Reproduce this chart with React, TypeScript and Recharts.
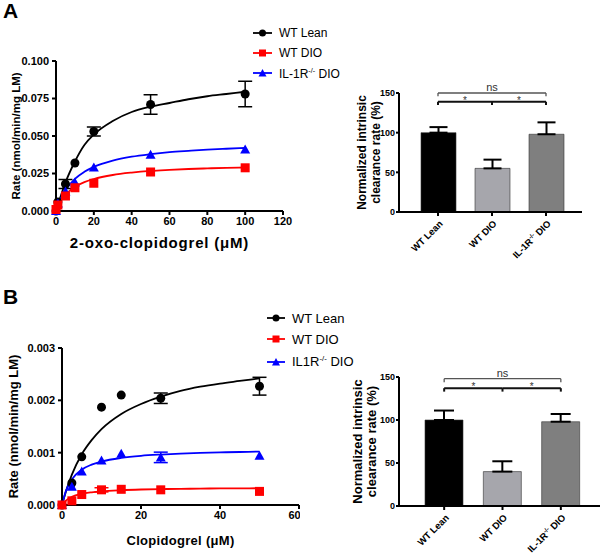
import React from "react";
import {
  ComposedChart,
  Line,
  Scatter,
  XAxis,
  YAxis,
  ErrorBar,
  BarChart,
  Bar,
  Cell,
  ReferenceLine,
} from "recharts";

const FONT = '"Liberation Sans", Arial, Helvetica, sans-serif';

// ---- Panel A: 2-oxo-clopidogrel kinetics ----
const concA = [0, 1, 5, 10, 20, 50, 100];
const leanA = [0, 0.006, 0.018, 0.032, 0.053, 0.071, 0.078];
const leanErrA = [0, 0, 0.003, 0, 0.003, 0.0065, 0.0085];
const dioA = [0.001, 0.004, 0.01, 0.0155, 0.0185, 0.026, 0.0288];
const dioErrA = [0, 0, 0, 0, 0, 0, 0];
const ilA = [0, 0.005, 0.013, 0.019, 0.029, 0.0375, 0.041];
const ilErrA = [0, 0, 0, 0, 0, 0, 0];

// fitted curves
const fitXA = [0, 1, 2, 5, 10, 15, 20, 30, 40, 50, 60, 70, 80, 90, 100];
const leanFitA = [0, 0.004, 0.008, 0.019, 0.033, 0.044, 0.051, 0.06, 0.066, 0.0695, 0.072, 0.0745, 0.0765, 0.078, 0.0795];
const dioFitA = [0, 0.0029, 0.0053, 0.0107, 0.016, 0.0192, 0.0213, 0.024, 0.0256, 0.0267, 0.0274, 0.028, 0.0284, 0.0288, 0.029];
const ilFitA = [0, 0.0036, 0.0067, 0.0138, 0.0214, 0.0261, 0.0294, 0.0336, 0.0362, 0.0379, 0.0392, 0.0401, 0.0409, 0.0415, 0.042];

// ---- Panel B: clopidogrel kinetics ----
const concB = [0, 2.5, 5, 10, 15, 25, 50];
const leanB = [0, 0.00042, 0.00092, 0.00187, 0.0021, 0.00204, 0.00227];
const leanErrB = [0, 0, 0, 0, 0, 0.0001, 0.00017];
const dioB = [0, 0.00008, 0.0002, 0.00029, 0.0003, 0.00029, 0.00026];
const dioErrB = [0, 0, 0, 0.00004, 0, 0, 0];
const ilB = [0, 0.00035, 0.00064, 0.00085, 0.00098, 0.00091, 0.00094];
const ilErrB = [0, 0, 0, 0, 0, 0.0001, 0];

const fitXB = [0, 1, 2.5, 5, 7.5, 10, 15, 20, 25, 30, 35, 40, 45, 50];
const leanFitB = [0, 0.00026, 0.00058, 0.00097, 0.00124, 0.00145, 0.00174, 0.00193, 0.00207, 0.00218, 0.00226, 0.00232, 0.00237, 0.00242];
const dioFitB = [0, 0.000085, 0.000155, 0.000213, 0.000243, 0.000262, 0.000283, 0.000296, 0.000304, 0.000309, 0.000313, 0.000317, 0.000319, 0.00032];
const ilFitB = [0, 0.00027, 0.00049, 0.000675, 0.000771, 0.00083, 0.0009, 0.00094, 0.000964, 0.000982, 0.000995, 0.001005, 0.001013, 0.00102];

// ---- Normalized intrinsic clearance bars ----
const groups = ["WT Lean", "WT DIO", "IL-1R-/- DIO"];
const barColors = ["#000000", "#a6a6ac", "#7f7f7f"];
const clearA = [100, 55, 98];
const clearErrA = [7, 11, 15];
const clearB = [100, 40, 98];
const clearErrB = [11, 12, 9];

const BLACK = "#000000";
const RED = "#ff0000";
const BLUE = "#0000ff";

const rows = (xs: number[], ys: number[], errs?: number[]) =>
  xs.map((x, i) => ({ x, y: ys[i], err: errs && errs[i] ? errs[i] : undefined }));

const barRows = (vals: number[], errs: number[]) =>
  groups.map((name, i) => ({ name, value: vals[i], err: [0, errs[i]] }));

const Dot = (p: any) => <circle cx={p.cx} cy={p.cy} r={4.5} fill={BLACK} />;
const Sq = (p: any) => <rect x={p.cx - 4.5} y={p.cy - 4.5} width={9} height={9} fill={RED} />;
const Tri = (p: any) => (
  <polygon points={`${p.cx},${p.cy - 5} ${p.cx - 5},${p.cy + 4} ${p.cx + 5},${p.cy + 4}`} fill={BLUE} />
);

function VTitle(props: any) {
  const { viewBox, lines, dx, size, gap } = props;
  const cx = (viewBox?.x ?? 0) + dx;
  const cy = (viewBox?.y ?? 0) + (viewBox?.height ?? 0) / 2;
  return (
    <text
      transform={`translate(${cx},${cy}) rotate(-90)`}
      textAnchor="middle"
      fontFamily={FONT}
      fontWeight="bold"
      fontSize={size}
      fill="#000"
    >
      {lines.map((l: string, i: number) => (
        <tspan key={i} x={0} y={i * (gap || size + 2)}>
          {l}
        </tspan>
      ))}
    </text>
  );
}

function GroupTick(props: any) {
  const { x, y, payload, size } = props;
  const label: string = payload.value;
  const sup = label.indexOf("-/-");
  return (
    <g transform={`translate(${x + 3},${y + 4}) rotate(-45)`}>
      <text textAnchor="end" dy={size * 0.35} fontFamily={FONT} fontWeight="bold" fontSize={size} fill="#000">
        {sup < 0 ? (
          label
        ) : (
          <>
            <tspan>{label.slice(0, sup)}</tspan>
            <tspan dy={-size * 0.4} fontSize={size * 0.65}>-/-</tspan>
            <tspan dy={size * 0.4}>{label.slice(sup + 3)}</tspan>
          </>
        )}
      </text>
    </g>
  );
}

function KineticsPanel(props: any) {
  const { w, h, margin, yw, xh, xDomain, xTicks, yDomain, yTicks, xTitle, xTitleSize, xTitleSpacing, xTitleDx, xTitleOffset, yTitleDx, yTitleSize, sets, fits } = props;
  const tickStyle = { fontFamily: FONT, fontWeight: "bold", fontSize: 11, fill: "#000" };
  return (
    <ComposedChart width={w} height={h} margin={margin}>
      <XAxis
        type="number"
        dataKey="x"
        domain={xDomain}
        ticks={xTicks}
        height={xh}
        axisLine={{ stroke: "#000", strokeWidth: 2 }}
        tickLine={{ stroke: "#000", strokeWidth: 2 }}
        tickSize={4}
        tickMargin={2}
        tick={tickStyle}
        label={{
          value: xTitle,
          position: "insideBottom",
          offset: xTitleOffset,
          dx: xTitleDx,
          style: { fontFamily: FONT, fontWeight: "bold", fontSize: xTitleSize, letterSpacing: xTitleSpacing, fill: "#000" },
        }}
      />
      <YAxis
        type="number"
        dataKey="y"
        domain={yDomain}
        ticks={yTicks}
        width={yw}
        axisLine={{ stroke: "#000", strokeWidth: 2 }}
        tickLine={{ stroke: "#000", strokeWidth: 2 }}
        tickSize={4}
        tickMargin={3}
        tick={tickStyle}
        tickFormatter={(v: number) => v.toFixed(3)}
        label={<VTitle lines={["Rate (nmol/min/mg LM)"]} dx={yTitleDx} size={yTitleSize} />}
      />
      {fits.map((f: any, i: number) => (
        <Line
          key={"f" + i}
          data={f.data}
          dataKey="y"
          type="monotone"
          stroke={f.color}
          strokeWidth={1.8}
          dot={false}
          activeDot={false}
          isAnimationActive={false}
        />
      ))}
      {sets.map((s: any, i: number) => (
        <Scatter key={"s" + i} data={s.data} shape={s.shape} isAnimationActive={false}>
          <ErrorBar dataKey="err" direction="y" width={7} strokeWidth={1.5} stroke={s.color} />
        </Scatter>
      ))}
    </ComposedChart>
  );
}

function ClearancePanel(props: any) {
  const { w, h, margin, yw, xh, pad, barSize, data, tickSize, titleSize, titleDx, titleGap, capW, br } = props;
  const tickStyle = { fontFamily: FONT, fontWeight: "bold", fontSize: 9, fill: "#000" };
  const thin = { stroke: "#555", strokeWidth: 1.3 };
  const thick = { stroke: "#111", strokeWidth: 2 };
  const seg = (a: string, ya: number, b: string, yb: number, s: any, key: string, label?: any) => (
    <ReferenceLine
      key={key}
      segment={[{ x: a, y: ya }, { x: b, y: yb }]}
      ifOverflow="visible"
      {...s}
      label={label}
    />
  );
  const starLabel = { value: "*", position: "top", offset: -2, style: { fontFamily: FONT, fontSize: 10, fill: "#333" } };
  return (
    <BarChart width={w} height={h} data={data} margin={margin} barSize={barSize}>
      <XAxis
        dataKey="name"
        height={xh}
        padding={pad}
        interval={0}
        axisLine={{ stroke: "#000", strokeWidth: 2 }}
        tickLine={{ stroke: "#000", strokeWidth: 2 }}
        tickSize={4}
        tick={<GroupTick size={tickSize} />}
      />
      <YAxis
        domain={[0, 150]}
        ticks={[0, 50, 100, 150]}
        width={yw}
        axisLine={{ stroke: "#000", strokeWidth: 2 }}
        tickLine={{ stroke: "#000", strokeWidth: 2 }}
        tickSize={3}
        tickMargin={1}
        tick={tickStyle}
        label={<VTitle lines={["Normalized intrinsic", "clearance rate (%)"]} dx={titleDx} size={titleSize} gap={titleGap} />}
      />
      <Bar dataKey="value" isAnimationActive={false} stroke="#333" strokeWidth={0.6}>
        {data.map((_: any, i: number) => (
          <Cell key={i} fill={barColors[i]} />
        ))}
        <ErrorBar dataKey="err" direction="y" width={capW} strokeWidth={2} stroke="#000" />
      </Bar>
      {seg(groups[0], br.top, groups[2], br.top, thin, "t", {
        value: "ns",
        position: "top",
        offset: 2,
        style: { fontFamily: FONT, fontSize: 11, fill: "#333" },
      })}
      {seg(groups[0], br.top, groups[0], br.top - br.tick, thin, "t1")}
      {seg(groups[2], br.top, groups[2], br.top - br.tick, thin, "t2")}
      {seg(groups[0], br.inner, groups[1], br.inner, thick, "i1", starLabel)}
      {seg(groups[1], br.inner, groups[2], br.inner, thick, "i2", starLabel)}
      {seg(groups[0], br.inner, groups[0], br.inner - br.tick, thick, "i3")}
      {seg(groups[1], br.inner, groups[1], br.inner - br.tick, thick, "i4")}
      {seg(groups[2], br.inner, groups[2], br.inner - br.tick, thick, "i5")}
    </BarChart>
  );
}

const ilLabel = (pre: string) => (
  <span>
    {pre}
    <sup style={{ fontSize: "0.6em" }}>-/-</sup> DIO
  </span>
);

function Legend(props: any) {
  const { left, top, rows: offsets, size, lineW, items } = props;
  return (
    <div style={{ position: "absolute", left, top, fontFamily: FONT, fontSize: size, color: "#000" }}>
      {items.map((it: any, i: number) => (
        <div
          key={i}
          style={{ position: "absolute", left: 0, top: offsets[i], display: "flex", alignItems: "center", whiteSpace: "nowrap", height: 16 }}
        >
          <svg width={lineW} height={12} style={{ marginRight: 7 }}>
            <line x1={0} y1={6} x2={lineW} y2={6} stroke={it.color} strokeWidth={1.8} />
            {it.shape === "circle" && <circle cx={lineW / 2} cy={6} r={3.5} fill={it.color} />}
            {it.shape === "square" && <rect x={lineW / 2 - 3.5} y={2.5} width={7} height={7} fill={it.color} />}
            {it.shape === "triangle" && (
              <polygon points={`${lineW / 2},2 ${lineW / 2 - 4},9.5 ${lineW / 2 + 4},9.5`} fill={it.color} />
            )}
          </svg>
          {it.label}
        </div>
      ))}
    </div>
  );
}

export default function App() {
  const setsA = [
    { data: rows(concA, leanA, leanErrA), shape: Dot, color: BLACK },
    { data: rows(concA, ilA, ilErrA), shape: Tri, color: BLUE },
    { data: rows(concA, dioA, dioErrA), shape: Sq, color: RED },
  ];
  const fitsA = [
    { data: rows(fitXA, leanFitA), color: BLACK },
    { data: rows(fitXA, ilFitA), color: BLUE },
    { data: rows(fitXA, dioFitA), color: RED },
  ];
  const setsB = [
    { data: rows(concB, leanB, leanErrB), shape: Dot, color: BLACK },
    { data: rows(concB, ilB, ilErrB), shape: Tri, color: BLUE },
    { data: rows(concB, dioB, dioErrB), shape: Sq, color: RED },
  ];
  const fitsB = [
    { data: rows(fitXB, leanFitB), color: BLACK },
    { data: rows(fitXB, ilFitB), color: BLUE },
    { data: rows(fitXB, dioFitB), color: RED },
  ];

  const letter = { position: "absolute" as const, left: 3, fontFamily: FONT, fontWeight: "bold" as const, fontSize: 21 };

  return (
    <div style={{ position: "absolute", left: 0, top: 0, width: 600, height: 556, background: "#fff", overflow: "hidden" }}>
      <div style={{ ...letter, top: -1 }}>A</div>
      <div style={{ ...letter, top: 285 }}>B</div>

      <div style={{ position: "absolute", left: 0, top: 0 }}>
        <KineticsPanel
          w={300}
          h={260}
          margin={{ top: 61, right: 17, left: 0, bottom: 0 }}
          yw={56}
          xh={49}
          xDomain={[0, 120]}
          xTicks={[0, 20, 40, 60, 80, 100, 120]}
          yDomain={[0, 0.1]}
          yTicks={[0, 0.025, 0.05, 0.075, 0.1]}
          xTitle="2-oxo-clopidogrel (μM)"
          xTitleSize={15}
          xTitleSpacing={0.8}
          xTitleDx={-10}
          xTitleOffset={12}
          yTitleDx={19.5}
          yTitleSize={11.5}
          sets={setsA}
          fits={fitsA}
        />
      </div>

      <Legend
        left={253}
        top={25}
        rows={[0, 20, 40]}
        size={12}
        lineW={19}
        items={[
          { label: "WT Lean", color: BLACK, shape: "circle" },
          { label: "WT DIO", color: RED, shape: "square" },
          { label: ilLabel("IL-1R"), color: BLUE, shape: "triangle" },
        ]}
      />

      <div style={{ position: "absolute", left: 340, top: 60 }}>
        <ClearancePanel
          w={260}
          h={210}
          margin={{ top: 33, right: 18, left: 0, bottom: 0 }}
          yw={59}
          xh={58}
          pad={{ left: 12, right: 9 }}
          barSize={35}
          data={barRows(clearA, clearErrA)}
          tickSize={9.5}
          titleSize={12}
          titleDx={25.5}
          titleGap={14}
          capW={9}
          br={{ top: 150, inner: 139, tick: 4 }}
        />
      </div>

      <div style={{ position: "absolute", left: 0, top: 280 }}>
        <KineticsPanel
          w={300}
          h={276}
          margin={{ top: 68, right: 1, left: 0, bottom: 0 }}
          yw={62}
          xh={51}
          xDomain={[0, 60]}
          xTicks={[0, 20, 40, 60]}
          yDomain={[0, 0.003]}
          yTicks={[0, 0.001, 0.002, 0.003]}
          xTitle="Clopidogrel (μM)"
          xTitleSize={13}
          xTitleSpacing={0.3}
          xTitleDx={0}
          xTitleOffset={11}
          yTitleDx={18}
          yTitleSize={13}
          sets={setsB}
          fits={fitsB}
        />
      </div>

      <Legend
        left={267}
        top={310}
        rows={[0, 21, 43.5]}
        size={13}
        lineW={18}
        items={[
          { label: "WT Lean", color: BLACK, shape: "circle" },
          { label: "WT DIO", color: RED, shape: "square" },
          { label: ilLabel("IL1R"), color: BLUE, shape: "triangle" },
        ]}
      />

      <div style={{ position: "absolute", left: 340, top: 340 }}>
        <ClearancePanel
          w={260}
          h={216}
          margin={{ top: 37, right: 0, left: 0, bottom: 0 }}
          yw={59}
          xh={50}
          pad={{ left: 16, right: 10 }}
          barSize={38}
          data={barRows(clearB, clearErrB)}
          tickSize={9.5}
          titleSize={13}
          titleDx={22}
          titleGap={13.5}
          capW={10}
          br={{ top: 148, inner: 137, tick: 4 }}
        />
      </div>
    </div>
  );
}
